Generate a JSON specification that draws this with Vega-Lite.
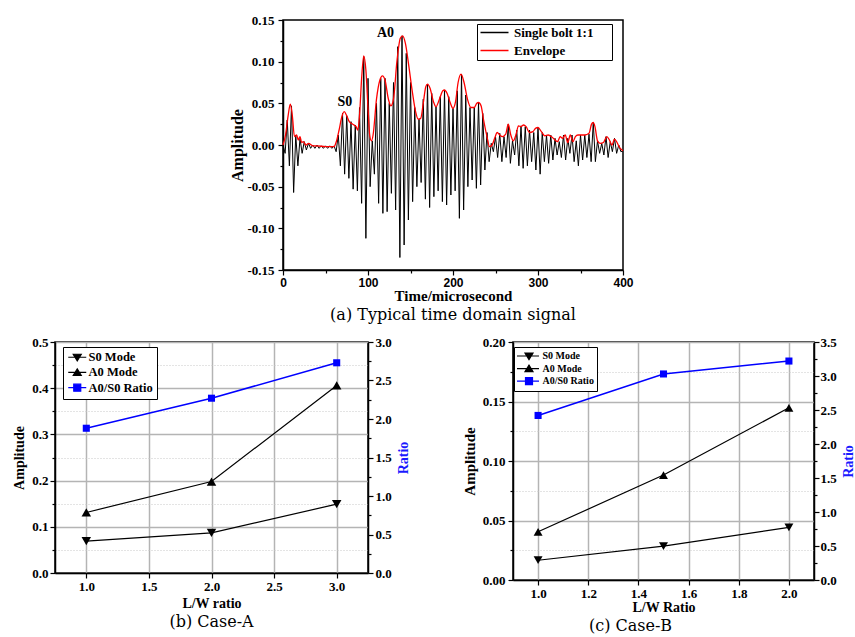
{
"$schema":"https://vega.github.io/schema/vega-lite/v6.json",
"padding":{"left":12,"top":13,"right":0,"bottom":0},
"background":"white",
"spacing":11,
"resolve":{"scale":{"color":"independent","shape":"independent"},"legend":{"color":"independent","shape":"independent"}},
"vconcat":[
{"hconcat":[
 {"width":228,"height":250,"view":{"stroke":null},"data":{"values":[{"a":1}]},"mark":{"type":"point","opacity":0}},
 {"width":340,"height":250,
  "title":{"text":"(a) Typical time domain signal"},
  "encoding":{
   "x":{"field":"t","type":"quantitative","scale":{"domain":[0,400],"nice":false,"zero":false},
    "axis":{"values":[0,50,100,150,200,250,300,350,400],"title":"Time/microsecond","labelFont":"Liberation Sans","labelFontSize":12,"titleFontSize":15,"labelPadding":2,"titlePadding":0,
     "labelExpr":"datum.value % 100 == 0 ? format(datum.value,'d') : ''",
     "tickSize":{"condition":{"test":"datum.value % 100 != 0","value":3},"value":5}}},
   "y":{"field":"v","type":"quantitative","scale":{"domain":[-0.15,0.15],"nice":false,"zero":false},
    "axis":{"values":[-0.15,-0.125,-0.1,-0.075,-0.05,-0.025,0,0.025,0.05,0.075,0.1,0.125,0.15],"title":"Amplitude","labelFontSize":13,"titleFontSize":16,"labelPadding":4,"titlePadding":1,
     "labelExpr":"abs(round(datum.value*40))%2==1 ? '' : replace(format(datum.value,'.2f'),'\u2212','-')",
     "tickSize":{"condition":{"test":"abs(round(datum.value*40))%2==1","value":3},"value":5}}}
  },
  "layer":[
   {"data":{"values":[
{"t":0,"v":0.0},{"t":2.5,"v":-0.01},{"t":5,"v":0.03},{"t":7.5,"v":-0.025},{"t":10,"v":0.047},{"t":12.5,"v":-0.057},{"t":15,"v":0.012},{"t":17.5,"v":-0.025},{"t":20,"v":0.008},{"t":22.5,"v":-0.01},
{"t":25,"v":0.004},{"t":27.5,"v":-0.006},{"t":30,"v":0.002},{"t":32.5,"v":-0.004},{"t":35,"v":0.0},{"t":37.5,"v":-0.004},{"t":40,"v":0.0},{"t":42.5,"v":-0.004},{"t":45,"v":-0.001},{"t":47.5,"v":-0.004},
{"t":50,"v":-0.001},{"t":52.5,"v":-0.004},{"t":55,"v":-0.001},{"t":57.5,"v":-0.004},{"t":60,"v":-0.001},{"t":62.5,"v":-0.008},{"t":65,"v":0.012},{"t":67.5,"v":-0.025},{"t":70,"v":0.038},{"t":72.5,"v":-0.035},
{"t":75,"v":0.035},{"t":77.5,"v":-0.04},{"t":80,"v":0.028},{"t":82.5,"v":-0.053},{"t":85,"v":0.024},{"t":87.5,"v":-0.055},{"t":90,"v":0.045},{"t":92.5,"v":-0.07},{"t":95,"v":0.106},{"t":97.5,"v":-0.112},
{"t":100,"v":0.08},{"t":102.5,"v":-0.05},{"t":105,"v":0.005},{"t":107.5,"v":-0.035},{"t":110,"v":0.05},{"t":112.5,"v":-0.07},{"t":115,"v":0.08},{"t":117.5,"v":-0.082},{"t":120,"v":0.08},{"t":122.5,"v":-0.08},
{"t":125,"v":0.05},{"t":127.5,"v":-0.058},{"t":130,"v":0.075},{"t":132.5,"v":-0.078},{"t":135,"v":0.118},{"t":137.5,"v":-0.135},{"t":140,"v":0.131},{"t":142.5,"v":-0.12},{"t":145,"v":0.11},{"t":147.5,"v":-0.09},
{"t":150,"v":0.075},{"t":152.5,"v":-0.068},{"t":155,"v":0.045},{"t":157.5,"v":-0.05},{"t":160,"v":0.031},{"t":162.5,"v":-0.045},{"t":165,"v":0.055},{"t":167.5,"v":-0.065},{"t":170,"v":0.073},{"t":172.5,"v":-0.075},
{"t":175,"v":0.062},{"t":177.5,"v":-0.062},{"t":180,"v":0.046},{"t":182.5,"v":-0.055},{"t":185,"v":0.058},{"t":187.5,"v":-0.068},{"t":190,"v":0.066},{"t":192.5,"v":-0.072},{"t":195,"v":0.058},{"t":197.5,"v":-0.06},
{"t":200,"v":0.044},{"t":202.5,"v":-0.055},{"t":205,"v":0.065},{"t":207.5,"v":-0.088},{"t":210,"v":0.085},{"t":212.5,"v":-0.078},{"t":215,"v":0.06},{"t":217.5,"v":-0.05},{"t":220,"v":0.045},{"t":222.5,"v":-0.042},
{"t":225,"v":0.045},{"t":227.5,"v":-0.052},{"t":230,"v":0.051},{"t":232.5,"v":-0.048},{"t":235,"v":0.038},{"t":237.5,"v":-0.03},{"t":240,"v":0.015},{"t":242.5,"v":-0.02},{"t":245,"v":0.002},{"t":247.5,"v":-0.008},
{"t":250,"v":0.01},{"t":252.5,"v":-0.015},{"t":255,"v":0.014},{"t":257.5,"v":-0.02},{"t":260,"v":0.01},{"t":262.5,"v":-0.015},{"t":265,"v":0.025},{"t":267.5,"v":-0.022},{"t":270,"v":0.005},{"t":272.5,"v":-0.012},
{"t":275,"v":0.018},{"t":277.5,"v":-0.025},{"t":280,"v":0.023},{"t":282.5,"v":-0.028},{"t":285,"v":0.022},{"t":287.5,"v":-0.025},{"t":290,"v":0.018},{"t":292.5,"v":-0.02},{"t":295,"v":0.015},{"t":297.5,"v":-0.03},
{"t":300,"v":0.021},{"t":302.5,"v":-0.035},{"t":305,"v":0.015},{"t":307.5,"v":-0.02},{"t":310,"v":0.012},{"t":312.5,"v":-0.022},{"t":315,"v":0.012},{"t":317.5,"v":-0.018},{"t":320,"v":0.008},{"t":322.5,"v":-0.012},
{"t":325,"v":0.004},{"t":327.5,"v":-0.015},{"t":330,"v":0.012},{"t":332.5,"v":-0.018},{"t":335,"v":0.008},{"t":337.5,"v":-0.01},{"t":340,"v":0.012},{"t":342.5,"v":-0.02},{"t":345,"v":0.005},{"t":347.5,"v":-0.025},
{"t":350,"v":0.012},{"t":352.5,"v":-0.018},{"t":355,"v":0.012},{"t":357.5,"v":-0.015},{"t":360,"v":0.013},{"t":362.5,"v":-0.02},{"t":365,"v":0.027},{"t":367.5,"v":-0.02},{"t":370,"v":0.005},{"t":372.5,"v":-0.01},
{"t":375,"v":0.002},{"t":377.5,"v":-0.012},{"t":380,"v":0.01},{"t":382.5,"v":-0.015},{"t":385,"v":0.004},{"t":387.5,"v":-0.008},{"t":390,"v":0.008},{"t":392.5,"v":-0.01},{"t":395,"v":0.0},{"t":397.5,"v":-0.008},{"t":400,"v":-0.007}
   ]},
    "mark":{"type":"line","strokeWidth":1},
    "encoding":{"color":{"datum":"Single bolt 1:1","type":"nominal","scale":{"domain":["Single bolt 1:1","Envelope"],"range":["black","#ff0000"]},
     "legend":{"title":null,"orient":"none","legendX":194,"legendY":4,"strokeColor":"black","fillColor":"white","padding":2,"symbolType":"M-1,0H4.6","symbolSize":100,"symbolStrokeWidth":1.5,"labelFontSize":13,"labelOffset":22,"rowPadding":4,
      "labelExpr":"datum.label + '\u2002\u2800'"}}}},
   {"data":{"values":[
{"t":0,"v":0.0},{"t":3,"v":0.012},{"t":6,"v":0.035},{"t":8.6,"v":0.049},{"t":11,"v":0.035},{"t":13.5,"v":0.01},{"t":16,"v":0.012},{"t":18,"v":0.006},{"t":20,"v":0.01},{"t":22,"v":0.003},{"t":24,"v":0.004},{"t":27,"v":0.0},{"t":30,"v":0.002},{"t":35,"v":-0.001},{"t":40,"v":-0.001},{"t":50,"v":-0.002},{"t":60,"v":-0.002},
{"t":63,"v":0.005},{"t":66,"v":0.018},{"t":69,"v":0.033},{"t":72,"v":0.04},{"t":75,"v":0.035},{"t":78,"v":0.028},{"t":82,"v":0.025},{"t":86,"v":0.022},{"t":88,"v":0.018},{"t":90,"v":0.035},{"t":92.5,"v":0.08},{"t":95,"v":0.107},{"t":97.5,"v":0.09},{"t":100,"v":0.045},{"t":102,"v":0.012},{"t":104,"v":0.005},{"t":106,"v":0.012},
{"t":110,"v":0.055},{"t":114,"v":0.078},{"t":117,"v":0.083},{"t":120,"v":0.078},{"t":124,"v":0.055},{"t":127,"v":0.047},{"t":130,"v":0.055},{"t":134,"v":0.1},{"t":138,"v":0.128},{"t":140.7,"v":0.131},{"t":144,"v":0.122},{"t":148,"v":0.095},{"t":152,"v":0.065},{"t":156,"v":0.04},{"t":159,"v":0.031},{"t":162,"v":0.032},
{"t":165,"v":0.05},{"t":168,"v":0.07},{"t":170,"v":0.073},{"t":173,"v":0.068},{"t":177,"v":0.052},{"t":180,"v":0.046},{"t":184,"v":0.055},{"t":188,"v":0.065},{"t":190,"v":0.066},{"t":193,"v":0.062},{"t":197,"v":0.05},{"t":200,"v":0.044},{"t":203,"v":0.052},{"t":206,"v":0.075},{"t":209.5,"v":0.085},{"t":213,"v":0.075},
{"t":217,"v":0.055},{"t":221,"v":0.045},{"t":225,"v":0.045},{"t":228,"v":0.05},{"t":230,"v":0.051},{"t":233,"v":0.047},{"t":236,"v":0.03},{"t":240,"v":0.01},{"t":243,"v":-0.002},{"t":246,"v":0.0},{"t":249,"v":0.008},{"t":252,"v":0.015},{"t":255,"v":0.012},{"t":258,"v":0.01},{"t":262,"v":0.013},{"t":265,"v":0.025},
{"t":268,"v":0.012},{"t":271,"v":0.005},{"t":274,"v":0.012},{"t":277,"v":0.023},{"t":280,"v":0.022},{"t":283,"v":0.024},{"t":286,"v":0.022},{"t":290,"v":0.015},{"t":294,"v":0.016},{"t":297,"v":0.02},{"t":300,"v":0.021},{"t":304,"v":0.016},{"t":308,"v":0.011},{"t":312,"v":0.012},{"t":316,"v":0.01},{"t":320,"v":0.006},
{"t":323,"v":0.004},{"t":326,"v":0.01},{"t":329,"v":0.008},{"t":332,"v":0.012},{"t":335,"v":0.003},{"t":338,"v":0.012},{"t":341,"v":0.004},{"t":344,"v":0.01},{"t":347,"v":0.012},{"t":350,"v":0.012},{"t":355,"v":0.012},{"t":360,"v":0.014},{"t":363,"v":0.025},{"t":365,"v":0.027},{"t":367,"v":0.022},{"t":370,"v":0.005},
{"t":373,"v":0.002},{"t":377,"v":0.003},{"t":381,"v":0.01},{"t":384,"v":0.006},{"t":387,"v":0.0},{"t":390,"v":0.007},{"t":393,"v":0.003},{"t":396,"v":-0.003},{"t":400,"v":-0.007}
   ]},
    "mark":{"type":"line","strokeWidth":1.3,"interpolate":"monotone"},
    "encoding":{"color":{"datum":"Envelope","type":"nominal"}}},
   {"data":{"values":[{"t":72.7,"v":0.052,"label":"S0"},{"t":120.6,"v":0.134,"label":"A0"}]},
    "mark":{"type":"text","font":"Liberation Serif","fontWeight":"bold","fontSize":14,"color":"black"},
    "encoding":{"text":{"field":"label"}}}
  ]}
 ],
 "spacing":0,"bounds":"flush",
 "resolve":{"scale":{"color":"independent","shape":"independent"},"legend":{"color":"independent","shape":"independent"}}
},
{"hconcat":[
 {"width":313,"height":231,
  "title":{"text":"(b) Case-A"},
  "layer":[
   {"data":{"values":[{"lw":1,"series":"S0 Mode","amp":0.069},{"lw":2,"series":"S0 Mode","amp":0.087},{"lw":3,"series":"S0 Mode","amp":0.149},{"lw":1,"series":"A0 Mode","amp":0.131},{"lw":2,"series":"A0 Mode","amp":0.198},{"lw":3,"series":"A0 Mode","amp":0.406}]},
    "encoding":{
     "x":{"field":"lw","type":"quantitative","scale":{"domain":[0.75,3.25],"nice":false,"zero":false},
      "axis":{"values":[1,1.25,1.5,1.75,2,2.25,2.5,2.75,3],"title":"L/W ratio","labelFontSize":13,"titleFontSize":14,"labelPadding":2,"titlePadding":3,
       "labelExpr":"round(datum.value*4)%2==1 ? '' : format(datum.value,'.1f')",
       "tickSize":{"condition":{"test":"round(datum.value*4)%2==1","value":3},"value":5},
       "grid":true,
       "gridColor":{"condition":{"test":"round(datum.value*4)%2==1","value":"#c8c8c8"},"value":"#b4b4b4"},
       "gridDash":{"condition":{"test":"round(datum.value*4)%2==1","value":[1,2]},"value":[]},
       "gridWidth":{"condition":{"test":"round(datum.value*4)%2==1","value":1},"value":1.5}}},
     "y":{"field":"amp","type":"quantitative","scale":{"domain":[0,0.5],"nice":false,"zero":false},
      "axis":{"values":[0,0.05,0.1,0.15,0.2,0.25,0.3,0.35,0.4,0.45,0.5],"title":"Amplitude","labelFontSize":13,"titleFontSize":14,"labelPadding":2,"titlePadding":5,
       "labelExpr":"round(datum.value*20)%2==1 ? '' : format(datum.value,'.1f')",
       "tickSize":{"condition":{"test":"round(datum.value*20)%2==1","value":3},"value":5},
       "grid":true,
       "gridColor":{"condition":{"test":"round(datum.value*20)%2==1","value":"#c8c8c8"},"value":"#b4b4b4"},
       "gridDash":{"condition":{"test":"round(datum.value*20)%2==1","value":[1,2]},"value":[]},
       "gridWidth":{"condition":{"test":"round(datum.value*20)%2==1","value":1},"value":1.5}}}
    },
    "layer":[
     {"mark":{"type":"point","filled":true,"opacity":0,"strokeWidth":1.2},
      "encoding":{
       "color":{"field":"series","type":"nominal","scale":{"domain":["S0 Mode","A0 Mode","A0/S0 Ratio"],"range":["black","black","#0000ff"]},
        "legend":{"title":null,"orient":"none","legendX":8,"legendY":5,"strokeColor":"black","fillColor":"white","padding":4,"symbolSize":100,"symbolOpacity":1,"symbolStrokeWidth":1.2,"labelFontSize":12.5,"labelOffset":9,"rowPadding":2.2}},
       "shape":{"field":"series","type":"nominal","scale":{"domain":["S0 Mode","A0 Mode","A0/S0 Ratio"],"range":["M-1,0H2.6M0,-0.6H1.6L0.8,0.7Z","M-1,0H2.6M0,0.6H1.6L0.8,-0.7Z","M-1,0H2.6M0.1,-0.7H1.5V0.7H0.1Z"]},
        "legend":{"title":null,"orient":"none","legendX":8,"legendY":5,"strokeColor":"black","fillColor":"white","padding":4,"symbolSize":100,"symbolOpacity":1,"symbolStrokeWidth":1.2,"labelFontSize":12.5,"labelOffset":9,"rowPadding":2.2}}}},
     {"mark":{"type":"line","strokeWidth":1.2},
      "encoding":{"color":{"field":"series","type":"nominal","scale":{"domain":["S0 Mode","A0 Mode","A0/S0 Ratio"],"range":["black","black","#0000ff"]}}}},
     {"transform":[{"filter":"datum.series === 'S0 Mode'"}],
      "mark":{"type":"point","filled":true,"size":90,"opacity":1,"shape":"triangle-down","color":"black"}},
     {"transform":[{"filter":"datum.series === 'A0 Mode'"}],
      "mark":{"type":"point","filled":true,"size":90,"opacity":1,"shape":"triangle-up","color":"black"}}
    ]},
   {"data":{"values":[{"lw":1,"series":"A0/S0 Ratio","ratio":1.88},{"lw":2,"series":"A0/S0 Ratio","ratio":2.27},{"lw":3,"series":"A0/S0 Ratio","ratio":2.73}]},
    "encoding":{
     "x":{"field":"lw","type":"quantitative","scale":{"domain":[0.75,3.25],"nice":false,"zero":false}},
     "y":{"field":"ratio","type":"quantitative","scale":{"domain":[0,3],"nice":false,"zero":false},
      "axis":{"orient":"right","values":[0,0.25,0.5,0.75,1,1.25,1.5,1.75,2,2.25,2.5,2.75,3],"title":"Ratio","titleColor":"#1a1aff","titleAngle":270,"titleBaseline":"top","labelFontSize":13,"titleFontSize":14,"labelPadding":2,"titlePadding":5,"grid":false,
       "labelExpr":"round(datum.value*4)%2==1 ? '' : format(datum.value,'.1f')",
       "tickSize":{"condition":{"test":"round(datum.value*4)%2==1","value":3},"value":5}}}
    },
    "layer":[
     {"mark":{"type":"line","strokeWidth":1.5,"color":"#0000ff"}},
     {"mark":{"type":"point","filled":true,"size":50,"opacity":1,"shape":"square","color":"#0000ff"}}
    ]}
  ],
  "resolve":{"scale":{"y":"independent"}}
 },
 {"width":301,"height":238,
  "title":{"text":"(c) Case-B","dx":-33},
  "layer":[
   {"data":{"values":[{"lw":1,"series":"S0 Mode","amp":0.0166},{"lw":1.5,"series":"S0 Mode","amp":0.0285},{"lw":2,"series":"S0 Mode","amp":0.0443},{"lw":1,"series":"A0 Mode","amp":0.0405},{"lw":1.5,"series":"A0 Mode","amp":0.0882},{"lw":2,"series":"A0 Mode","amp":0.1447}]},
    "encoding":{
     "x":{"field":"lw","type":"quantitative","scale":{"domain":[0.9,2.1],"nice":false,"zero":false},
      "axis":{"values":[1,1.1,1.2,1.3,1.4,1.5,1.6,1.7,1.8,1.9,2],"title":"L/W Ratio","labelFontSize":13,"titleFontSize":14,"labelPadding":2,"titlePadding":0,
       "labelExpr":"round(datum.value*10)%2==1 ? '' : format(datum.value,'.1f')",
       "tickSize":{"condition":{"test":"round(datum.value*10)%2==1","value":3},"value":5},
       "grid":true,
       "gridColor":{"condition":{"test":"round(datum.value*10)%2==1","value":"#c8c8c8"},"value":"#b4b4b4"},
       "gridDash":{"condition":{"test":"round(datum.value*10)%2==1","value":[1,2]},"value":[]},
       "gridWidth":{"condition":{"test":"round(datum.value*10)%2==1","value":1},"value":1.5}}},
     "y":{"field":"amp","type":"quantitative","scale":{"domain":[0,0.2],"nice":false,"zero":false},
      "axis":{"values":[0,0.025,0.05,0.075,0.1,0.125,0.15,0.175,0.2],"title":"Amplitude","labelFontSize":13,"titleFontSize":15,"labelPadding":3,"titlePadding":5,
       "labelExpr":"round(datum.value*40)%2==1 ? '' : format(datum.value,'.2f')",
       "tickSize":{"condition":{"test":"round(datum.value*40)%2==1","value":3},"value":5},
       "grid":true,
       "gridColor":{"condition":{"test":"round(datum.value*40)%2==1","value":"#c8c8c8"},"value":"#b4b4b4"},
       "gridDash":{"condition":{"test":"round(datum.value*40)%2==1","value":[1,2]},"value":[]},
       "gridWidth":{"condition":{"test":"round(datum.value*40)%2==1","value":1},"value":1.5}}}
    },
    "layer":[
     {"mark":{"type":"point","filled":true,"opacity":0,"strokeWidth":1.2},
      "encoding":{
       "color":{"field":"series","type":"nominal","scale":{"domain":["S0 Mode","A0 Mode","A0/S0 Ratio"],"range":["black","black","#0000ff"]},
        "legend":{"title":null,"orient":"none","legendX":1,"legendY":5,"strokeColor":"black","fillColor":"white","padding":3,"symbolSize":100,"symbolOpacity":1,"symbolStrokeWidth":1.2,"labelFontSize":10,"labelOffset":13.5,"rowPadding":0.6}},
       "shape":{"field":"series","type":"nominal","scale":{"domain":["S0 Mode","A0 Mode","A0/S0 Ratio"],"range":["M-1.2,0H3.2M0.4,-0.6H2L1.2,0.7Z","M-1.2,0H3.2M0.4,0.6H2L1.2,-0.7Z","M-1.2,0H3.2M0.5,-0.7H1.9V0.7H0.5Z"]},
        "legend":{"title":null,"orient":"none","legendX":1,"legendY":5,"strokeColor":"black","fillColor":"white","padding":3,"symbolSize":100,"symbolOpacity":1,"symbolStrokeWidth":1.2,"labelFontSize":10,"labelOffset":13.5,"rowPadding":0.6}}}},
     {"mark":{"type":"line","strokeWidth":1.2},
      "encoding":{"color":{"field":"series","type":"nominal","scale":{"domain":["S0 Mode","A0 Mode","A0/S0 Ratio"],"range":["black","black","#0000ff"]}}}},
     {"transform":[{"filter":"datum.series === 'S0 Mode'"}],
      "mark":{"type":"point","filled":true,"size":80,"opacity":1,"shape":"triangle-down","color":"black"}},
     {"transform":[{"filter":"datum.series === 'A0 Mode'"}],
      "mark":{"type":"point","filled":true,"size":80,"opacity":1,"shape":"triangle-up","color":"black"}}
    ]},
   {"data":{"values":[{"lw":1,"series":"A0/S0 Ratio","ratio":2.42},{"lw":1.5,"series":"A0/S0 Ratio","ratio":3.03},{"lw":2,"series":"A0/S0 Ratio","ratio":3.22}]},
    "encoding":{
     "x":{"field":"lw","type":"quantitative","scale":{"domain":[0.9,2.1],"nice":false,"zero":false}},
     "y":{"field":"ratio","type":"quantitative","scale":{"domain":[0,3.5],"nice":false,"zero":false},
      "axis":{"orient":"right","values":[0,0.25,0.5,0.75,1,1.25,1.5,1.75,2,2.25,2.5,2.75,3,3.25,3.5],"title":"Ratio","titleColor":"#1a1aff","titleAngle":270,"titleBaseline":"top","labelFontSize":13,"titleFontSize":14,"labelPadding":1,"titlePadding":5,"grid":false,
       "labelExpr":"round(datum.value*4)%2==1 ? '' : format(datum.value,'.1f')",
       "tickSize":{"condition":{"test":"round(datum.value*4)%2==1","value":3},"value":5}}}
    },
    "layer":[
     {"mark":{"type":"line","strokeWidth":1.5,"color":"#0000ff"}},
     {"mark":{"type":"point","filled":true,"size":50,"opacity":1,"shape":"square","color":"#0000ff"}}
    ]}
  ],
  "resolve":{"scale":{"y":"independent"}}
 }
 ],
 "spacing":145,"bounds":"flush",
 "resolve":{"scale":{"color":"independent","shape":"independent"},"legend":{"color":"independent","shape":"independent"}}
}
],
"config":{
 "view":{"stroke":"black","strokeWidth":1.5},
 "font":"Liberation Serif",
 "axis":{"domainColor":"black","domainWidth":1.5,"tickColor":"black","tickWidth":1.2,"labelColor":"black","titleColor":"black","labelFont":"Liberation Serif","labelFontWeight":"bold","titleFont":"Liberation Serif","titleFontWeight":"bold","grid":false,"labelFlush":false,"labelOverlap":false},
 "title":{"font":"DejaVu Serif","fontWeight":"normal","fontSize":16,"color":"black","orient":"bottom","anchor":"middle","offset":4},
 "legend":{"labelFont":"Liberation Serif","labelFontWeight":"bold","labelColor":"black"}
}
}
